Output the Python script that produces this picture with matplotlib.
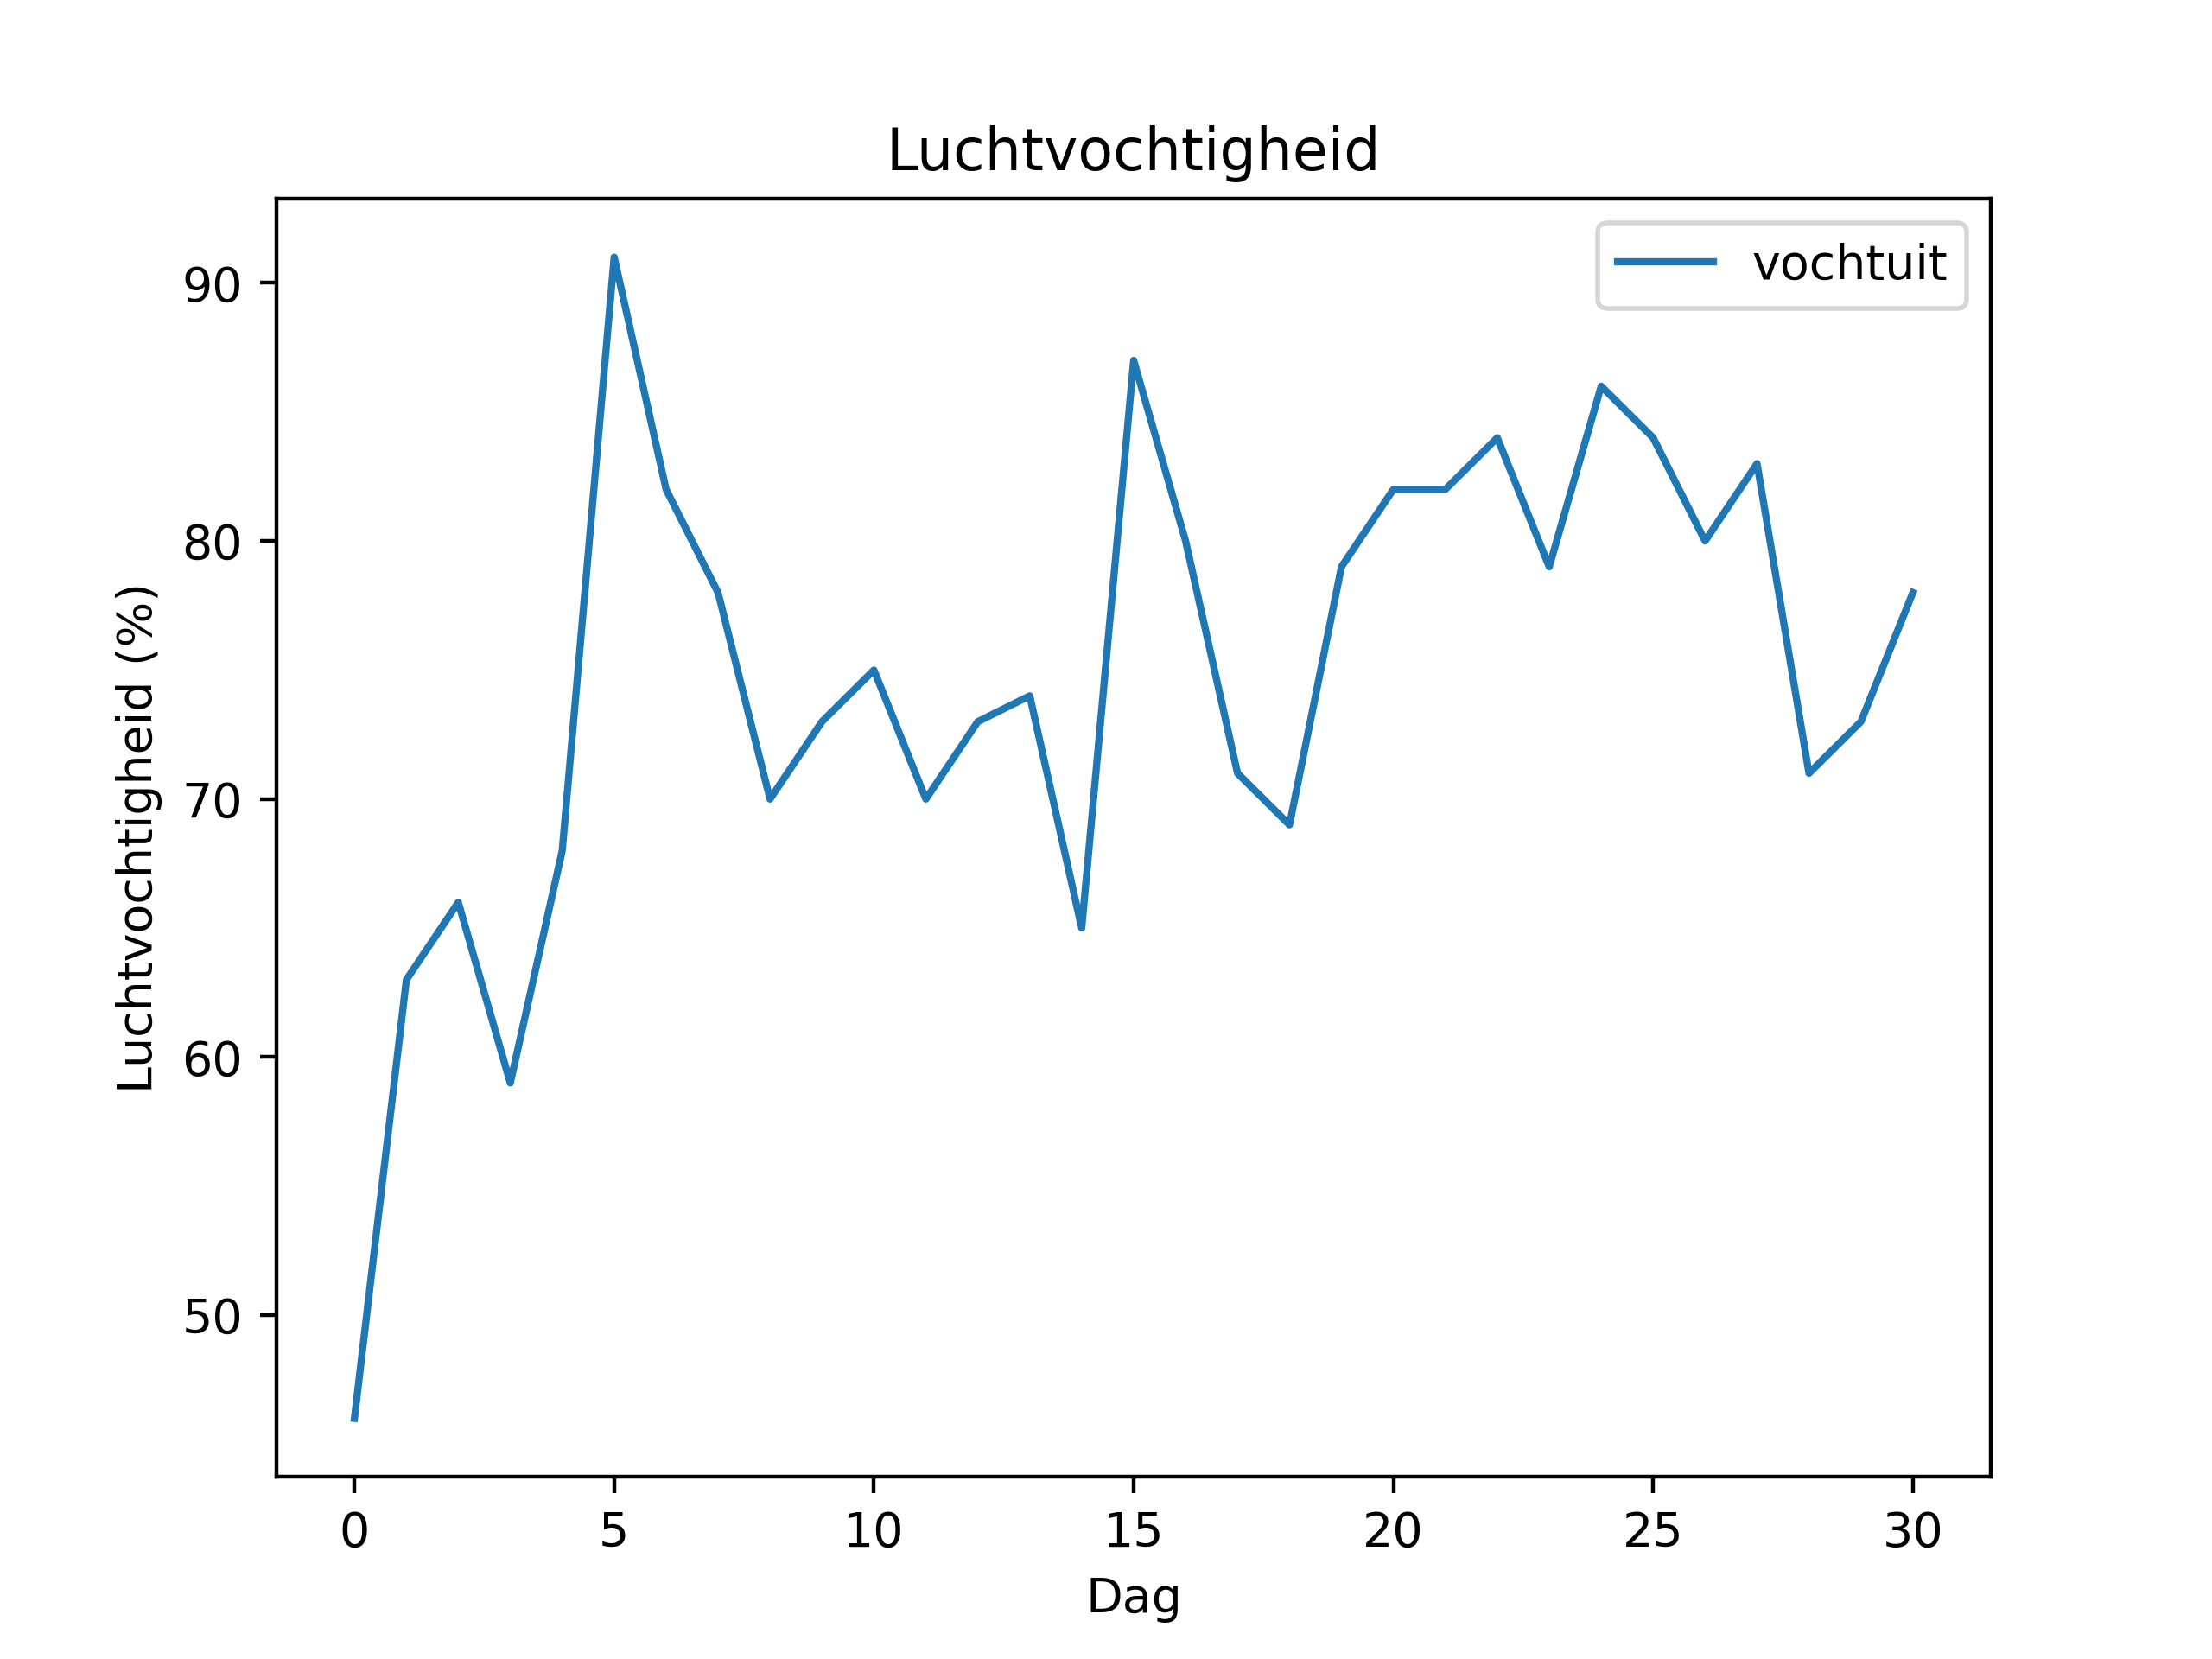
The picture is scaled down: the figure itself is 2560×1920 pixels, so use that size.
import matplotlib
matplotlib.use("Agg")
import matplotlib.pyplot as plt

# Dagen en gemeten luchtvochtigheid buiten
dagen = list(range(0, 31))
vochtuit = [46, 63, 66, 59, 68, 91, 82, 78, 70, 73, 75, 70, 73, 74, 65, 87,
            80, 71, 69, 79, 82, 82, 84, 79, 86, 84, 80, 83, 71, 73, 78]

plt.figure(figsize=(6.4, 4.8))
plt.plot(dagen, vochtuit, label="vochtuit")
plt.xlabel("Dag")
plt.ylabel("Luchtvochtigheid (%)")
plt.title("Luchtvochtigheid")
plt.legend()
plt.savefig("out.png", dpi=400)
